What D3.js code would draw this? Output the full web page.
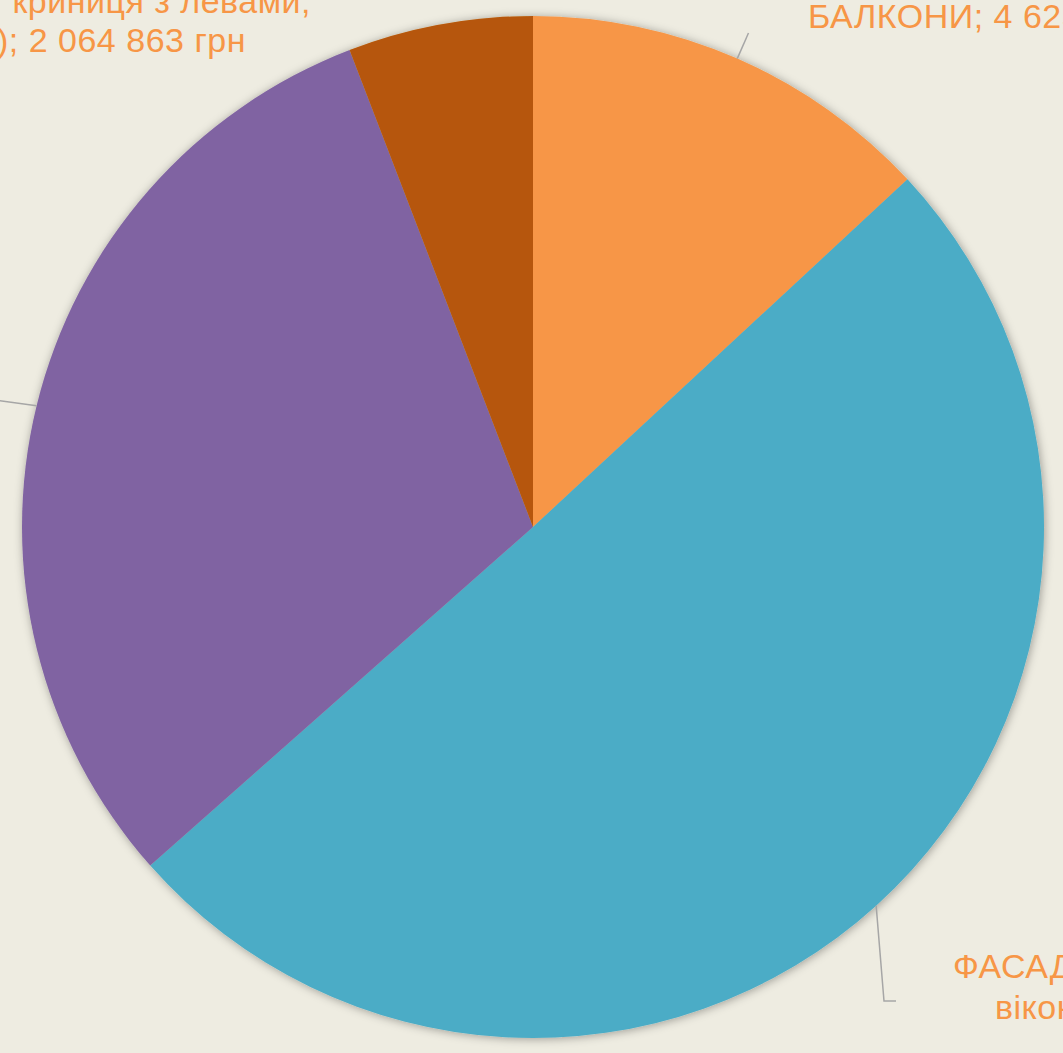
<!DOCTYPE html>
<html>
<head>
<meta charset="utf-8">
<script src="https://cdn.jsdelivr.net/npm/d3@7"></script>
<style>
  html, body { margin: 0; padding: 0; background: #EEECE1; overflow: hidden; }
  svg { display: block; }
  text { font-family: "Liberation Sans", Arial, sans-serif; }
</style>
</head>
<body>
<div id="chart"></div>
<script>
(function (d3) {
  'use strict';

  // chart data (values in грн)
  var categories = ["БАЛКОНИ", "ФАСАДИ", "ЛІПНИНА", "ФОНТАН"];
  var values = [4625000, 17800000, 10840000, 2064863];
  var colors = ["#F79646", "#4BACC6", "#8064A2", "#B65708"];
  // label lines as they show in the picture (parts outside the frame are cut)
  var labelLines = [
    ["БАЛКОНИ; 4 625 000 грн"],
    ["ФАСАДИ (ремонт,", "вікон); 17 800 000 грн"],
    ["ЛІПНИНА;", "10 840 000 грн"],
    ["криниця з левами;", "); 2 064 863 грн"]
  ];

  var width = 1063, height = 1053;
  var cx = 533, cy = 527, radius = 511;

  var svg = d3.select("#chart").append("svg")
    .attr("width", width).attr("height", height);

  var defs = svg.append("defs");
  var shadow = defs.append("filter").attr("id", "shadow")
    .attr("x", "-10%").attr("y", "-10%").attr("width", "120%").attr("height", "120%");
  shadow.append("feDropShadow")
    .attr("dx", 1).attr("dy", 1).attr("stdDeviation", 5)
    .attr("flood-color", "#000").attr("flood-opacity", 0.35);

  var g = svg.append("g").attr("transform", "translate(" + cx + "," + cy + ")");

  var data = categories.map(function (c, i) {
    return { name: c, value: values[i], color: colors[i], lines: labelLines[i] };
  });

  var pie = d3.pie().sort(null).value(function (d) { return d.value; });
  var arc = d3.arc().innerRadius(0).outerRadius(radius);
  var arcs = pie(data);

  g.append("g").attr("filter", "url(#shadow)")
    .selectAll("path").data(arcs).enter().append("path")
    .attr("d", arc)
    .attr("fill", function (d) { return d.data.color; });

  // point on a circle of radius r at the slice's middle angle
  function polar(a, r) {
    return [r * Math.sin(a), -r * Math.cos(a)];
  }
  function mid(d) { return (d.startAngle + d.endAngle) / 2; }

  // leader / label layout per slice (pixel offsets from centre)
  var layout = [
    { leader: 539, elbow: null, anchor: "start", lx: 275, ly: -499, dy: 40, shift: [0] },
    { leader: null, elbow: [351, 474], tail: 12, anchor: "start", lx: 420, ly: 451, dy: 41, shift: [0, 42] },
    { leader: null, elbow: [-560, -130], tail: 0, anchor: "end", lx: -575, ly: -120, dy: 40, shift: [0, 0] },
    { leader: null, elbow: null, anchor: "end", lx: -222, ly: -514, dy: 39, shift: [0, -65] }
  ];

  var lineG = g.append("g");
  var labelG = g.append("g");

  arcs.forEach(function (d, i) {
    var L = layout[i];
    var a = mid(d);
    var p0 = polar(a, radius);
    var pts = null;
    if (L.leader) {
      pts = [p0, polar(a, L.leader)];
    } else if (L.elbow) {
      pts = [p0, L.elbow];
      if (L.tail) pts.push([L.elbow[0] + L.tail, L.elbow[1]]);
    }
    if (pts) {
      lineG.append("path")
        .attr("d", d3.line()(pts))
        .attr("fill", "none")
        .attr("stroke", "#A6A6A6")
        .attr("stroke-width", 1.5);
    }
    var t = labelG.append("text")
      .attr("text-anchor", L.anchor)
      .attr("font-size", 34)
      .attr("letter-spacing", 0.5)
      .attr("fill", "#F79646");
    d.data.lines.forEach(function (s, k) {
      t.append("tspan")
        .attr("x", L.lx + (L.shift[k] || 0))
        .attr("y", L.ly + k * L.dy)
        .text(s);
    });
  });
})(d3);
</script>
</body>
</html>
